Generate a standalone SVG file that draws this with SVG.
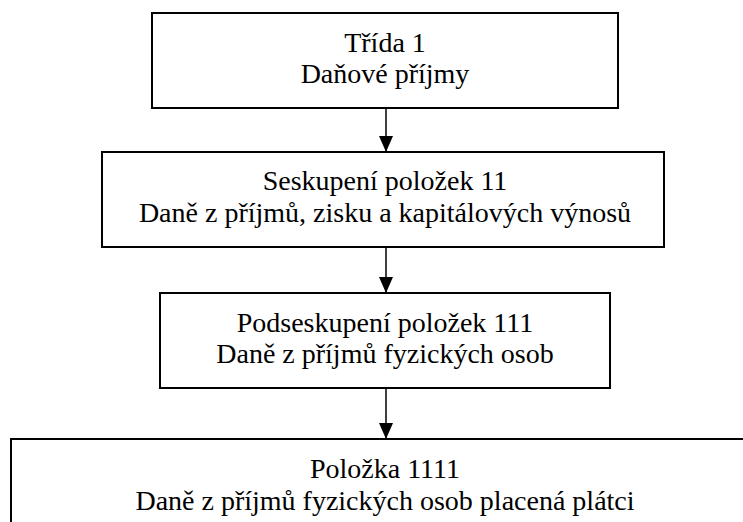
<svg xmlns="http://www.w3.org/2000/svg" width="743" height="522" viewBox="0 0 743 522">
<style>
.box{fill:#fff;stroke:#000;stroke-width:2}
.t{font-size:28px;fill:#000;text-anchor:middle}
.c{stroke:#000;stroke-width:1.5;fill:none}
</style>
<defs>
<marker id="ah" markerWidth="16" markerHeight="14" refX="16" refY="7" orient="auto" markerUnits="userSpaceOnUse">
<path d="M0,0 L16,7 L0,14 Z" fill="#000"/>
</marker>
</defs>
<rect width="743" height="522" fill="#fff"/>
<g id="connectors">
<line class="c" x1="386" y1="108" x2="386" y2="152" marker-end="url(#ah)"/>
<line class="c" x1="386" y1="247" x2="386" y2="293" marker-end="url(#ah)"/>
<line class="c" x1="386" y1="388" x2="386" y2="439" marker-end="url(#ah)"/>
</g>
<g font-family="Liberation Serif, DejaVu Serif, serif">
<g id="n1">
<rect class="box" x="152" y="13" width="466" height="95"/>
<text class="t" x="385" y="52">Třída 1</text>
<text class="t" x="385" y="83">Daňové příjmy</text>
</g>
<g id="n2">
<rect class="box" x="102" y="152" width="562" height="95"/>
<text class="t" x="385" y="190">Seskupení položek 11</text>
<text class="t" x="385" y="222">Daně z příjmů, zisku a kapitálových výnosů</text>
</g>
<g id="n3">
<rect class="box" x="160" y="293" width="450" height="95"/>
<text class="t" x="385" y="332">Podseskupení položek 111</text>
<text class="t" x="385" y="363">Daně z příjmů fyzických osob</text>
</g>
<g id="n4">
<rect class="box" x="11" y="439" width="748" height="95"/>
<text class="t" x="385" y="478">Položka 1111</text>
<text class="t" x="385" y="510">Daně z příjmů fyzických osob placená plátci</text>
</g>
</g>
</svg>
